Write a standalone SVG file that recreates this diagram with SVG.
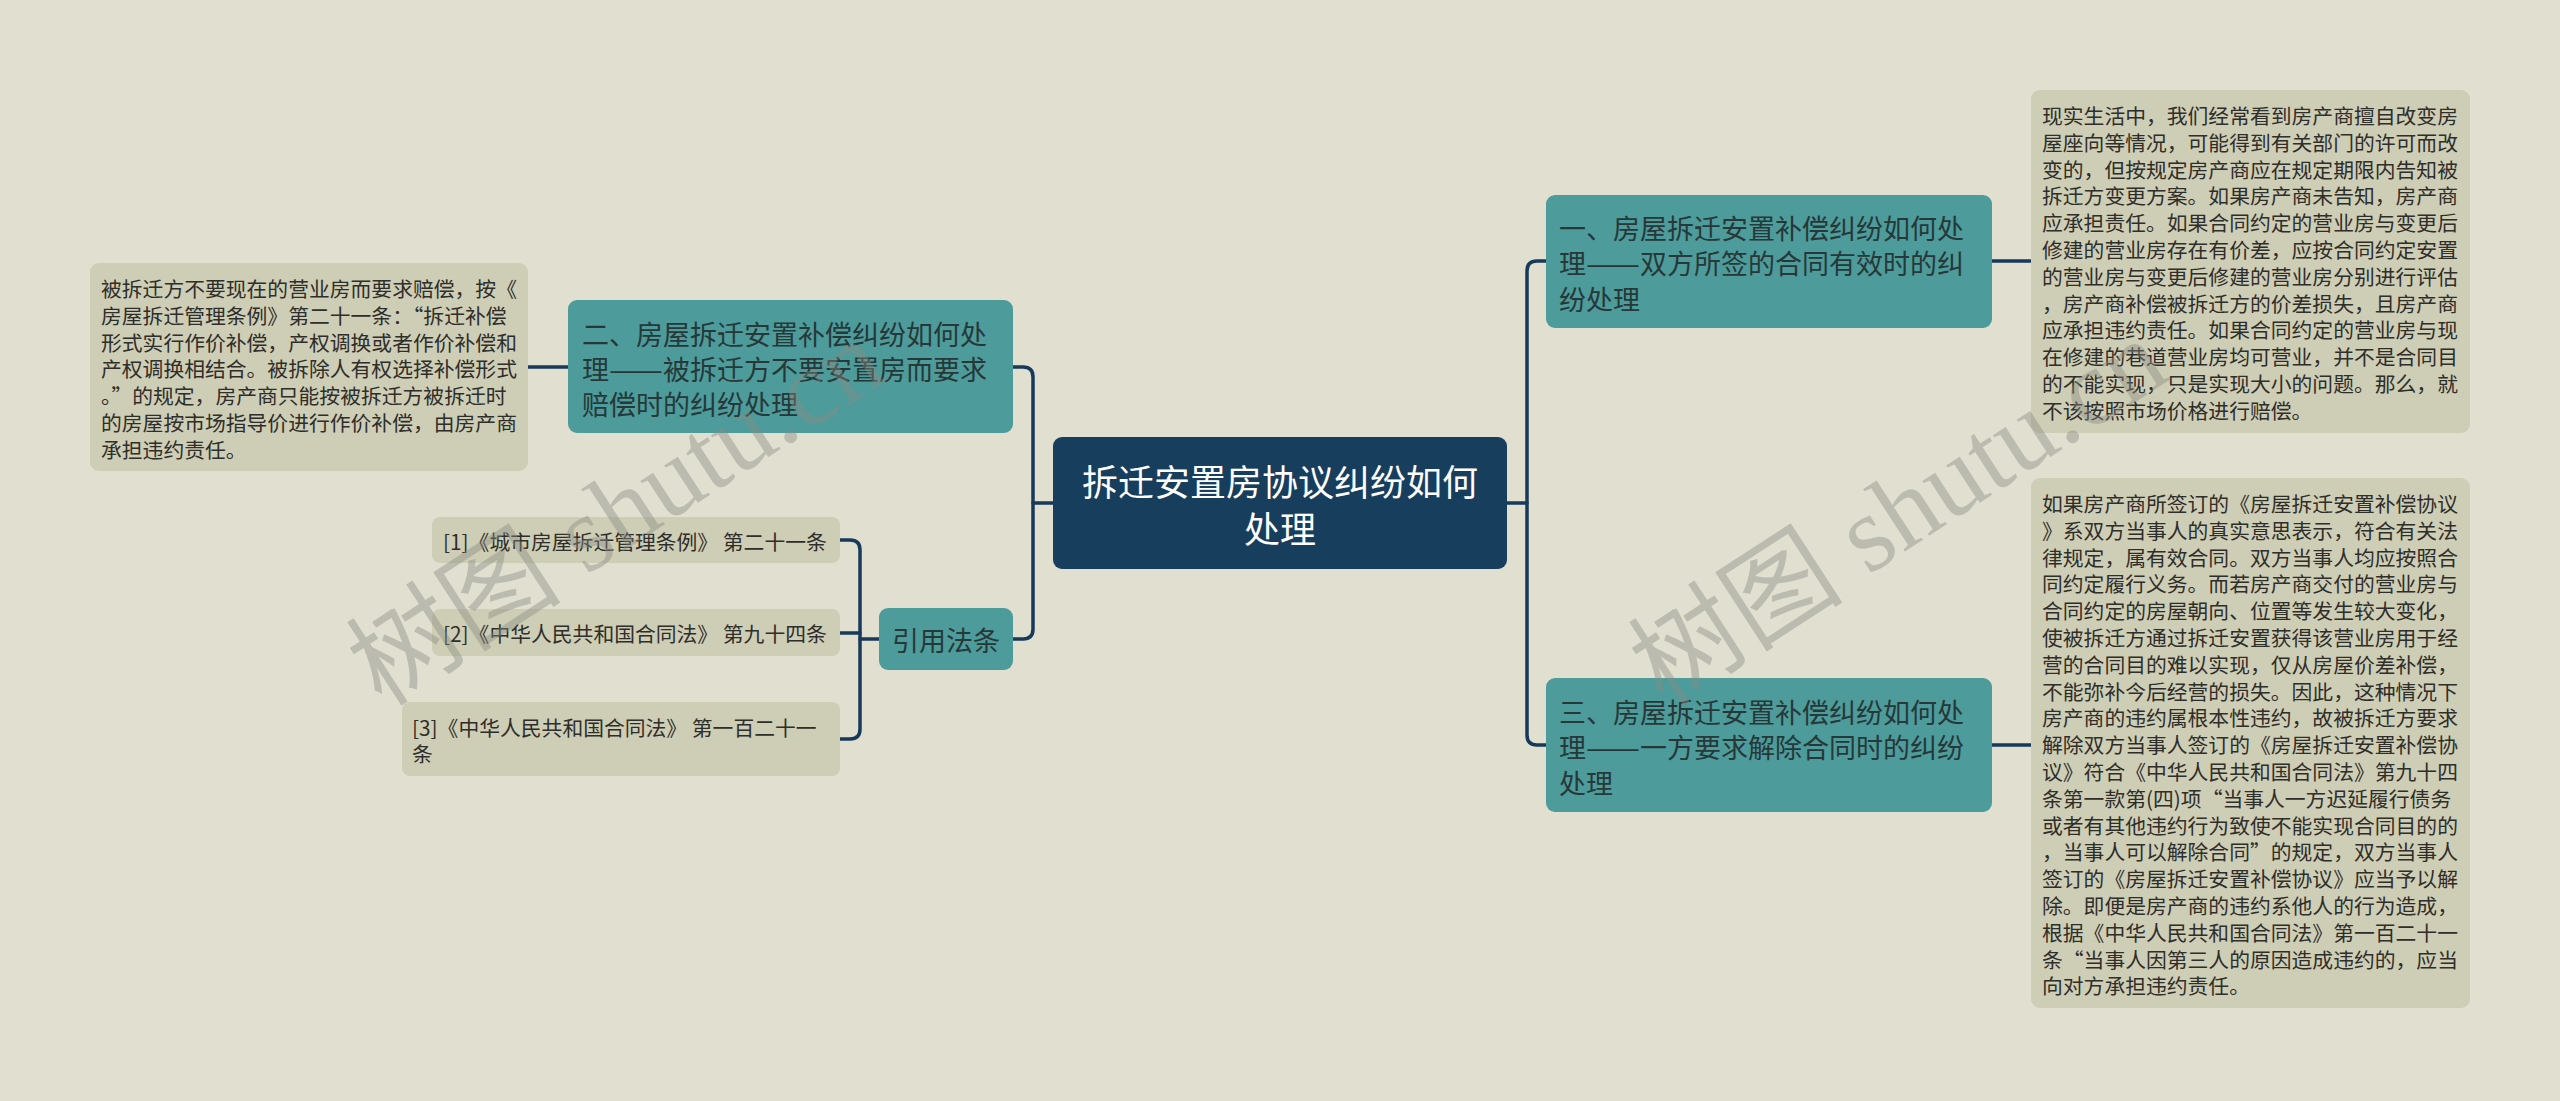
<svg xmlns="http://www.w3.org/2000/svg" width="2560" height="1101" viewBox="0 0 2560 1101">
<style>
text{font-family:"Noto Sans CJK SC","Noto Sans",sans-serif;dominant-baseline:central}
.root-box{fill:#183e5e}
.root-t{fill:#ffffff;font-size:36px;text-anchor:middle}
.br-box{fill:#4d9b9b}
.br-t{fill:#263838;font-size:27px}
.d-box{fill:#cecdb5}
.d-t{fill:#2e2e2a;font-size:20.8px}
.conn{fill:none;stroke:#173a5a;stroke-width:3.5;stroke-linecap:round;stroke-linejoin:round}
.wm{font-family:"Liberation Serif","Noto Sans CJK SC",serif;font-size:108px;fill:#8a8a80;fill-opacity:0.42;dominant-baseline:auto}
</style>
<rect x="0" y="0" width="2560" height="1101" fill="#e0dfd0"/>

<g id="connectors">
  <path class="conn" d="M1507 503 H1527"/>
  <path class="conn" d="M1546 261 H1537 Q1527 261 1527 271 V735 Q1527 745 1537 745 H1546"/>
  <path class="conn" d="M1992 261 H2031"/>
  <path class="conn" d="M1992 745 H2031"/>
  <path class="conn" d="M1053 503 H1033"/>
  <path class="conn" d="M1013 367 H1023 Q1033 367 1033 377 V629 Q1033 639 1023 639 H1013"/>
  <path class="conn" d="M568 367 H528"/>
  <path class="conn" d="M879 639 H860"/>
  <path class="conn" d="M840 540 H850 Q860 540 860 550 V729 Q860 739 850 739 H840"/>
  <path class="conn" d="M840 633 H860"/>
</g>

<g id="root">
  <rect class="root-box" x="1053" y="437" width="454" height="132" rx="9"/>
  <text class="root-t" x="1280" y="480">拆迁安置房协议纠纷如何</text>
  <text class="root-t" x="1280" y="527">处理</text>
</g>

<g id="branch1">
  <rect class="br-box" x="1546" y="195" width="446" height="133" rx="9"/>
  <text class="br-t" x="1559" y="227">一、房屋拆迁安置补偿纠纷如何处</text>
  <text class="br-t" x="1559" y="262">理<tspan textLength="54" lengthAdjust="spacingAndGlyphs">——</tspan><tspan x="1640">双方所签的合同有效时的纠</tspan></text>
  <text class="br-t" x="1559" y="298">纷处理</text>
</g>

<g id="branch3">
  <rect class="br-box" x="1546" y="678" width="446" height="134" rx="9"/>
  <text class="br-t" x="1559" y="711">三、房屋拆迁安置补偿纠纷如何处</text>
  <text class="br-t" x="1559" y="746">理<tspan textLength="54" lengthAdjust="spacingAndGlyphs">——</tspan><tspan x="1640">一方要求解除合同时的纠纷</tspan></text>
  <text class="br-t" x="1559" y="782">处理</text>
</g>

<g id="branch2">
  <rect class="br-box" x="568" y="300" width="445" height="133" rx="9"/>
  <text class="br-t" x="582" y="333">二、房屋拆迁安置补偿纠纷如何处</text>
  <text class="br-t" x="582" y="368">理<tspan textLength="54" lengthAdjust="spacingAndGlyphs">——</tspan><tspan x="663">被拆迁方不要安置房而要求</tspan></text>
  <text class="br-t" x="582" y="403">赔偿时的纠纷处理</text>
</g>

<g id="refs">
  <rect class="br-box" x="879" y="608" width="134" height="62" rx="9"/>
  <text class="br-t" x="946" y="639" text-anchor="middle">引用法条</text>
</g>

<g id="detail1">
  <rect class="d-box" x="2031" y="90" width="439" height="343" rx="9"/>
  <text class="d-t" x="2042" y="115">现实生活中，我们经常看到房产商擅自改变房</text>
  <text class="d-t" x="2042" y="141.8">屋座向等情况，可能得到有关部门的许可而改</text>
  <text class="d-t" x="2042" y="168.6">变的，但按规定房产商应在规定期限内告知被</text>
  <text class="d-t" x="2042" y="195.4">拆迁方变更方案。如果房产商未告知，房产商</text>
  <text class="d-t" x="2042" y="222.2">应承担责任。如果合同约定的营业房与变更后</text>
  <text class="d-t" x="2042" y="249">修建的营业房存在有价差，应按合同约定安置</text>
  <text class="d-t" x="2042" y="275.8">的营业房与变更后修建的营业房分别进行评估</text>
  <text class="d-t" x="2042" y="302.6">，房产商补偿被拆迁方的价差损失，且房产商</text>
  <text class="d-t" x="2042" y="329.4">应承担违约责任。如果合同约定的营业房与现</text>
  <text class="d-t" x="2042" y="356.2">在修建的巷道营业房均可营业，并不是合同目</text>
  <text class="d-t" x="2042" y="383">的不能实现，只是实现大小的问题。那么，就</text>
  <text class="d-t" x="2042" y="409.8">不该按照市场价格进行赔偿。</text>
</g>

<g id="detail3">
  <rect class="d-box" x="2031" y="478" width="439" height="530" rx="9"/>
  <text class="d-t" x="2042" y="503">如果房产商所签订的《房屋拆迁安置补偿协议</text>
  <text class="d-t" x="2042" y="529.8">》系双方当事人的真实意思表示，符合有关法</text>
  <text class="d-t" x="2042" y="556.6">律规定，属有效合同。双方当事人均应按照合</text>
  <text class="d-t" x="2042" y="583.4">同约定履行义务。而若房产商交付的营业房与</text>
  <text class="d-t" x="2042" y="610.2">合同约定的房屋朝向、位置等发生较大变化，</text>
  <text class="d-t" x="2042" y="637">使被拆迁方通过拆迁安置获得该营业房用于经</text>
  <text class="d-t" x="2042" y="663.8">营的合同目的难以实现，仅从房屋价差补偿，</text>
  <text class="d-t" x="2042" y="690.6">不能弥补今后经营的损失。因此，这种情况下</text>
  <text class="d-t" x="2042" y="717.4">房产商的违约属根本性违约，故被拆迁方要求</text>
  <text class="d-t" x="2042" y="744.2">解除双方当事人签订的《房屋拆迁安置补偿协</text>
  <text class="d-t" x="2042" y="771">议》符合《中华人民共和国合同法》第九十四</text>
  <text class="d-t" x="2042" y="797.8">条第一款第(四)项“当事人一方迟延履行债务</text>
  <text class="d-t" x="2042" y="824.6">或者有其他违约行为致使不能实现合同目的的</text>
  <text class="d-t" x="2042" y="851.4">，当事人可以解除合同”的规定，双方当事人</text>
  <text class="d-t" x="2042" y="878.2">签订的《房屋拆迁安置补偿协议》应当予以解</text>
  <text class="d-t" x="2042" y="905">除。即便是房产商的违约系他人的行为造成，</text>
  <text class="d-t" x="2042" y="931.8">根据《中华人民共和国合同法》第一百二十一</text>
  <text class="d-t" x="2042" y="958.6">条“当事人因第三人的原因造成违约的，应当</text>
  <text class="d-t" x="2042" y="985.4">向对方承担违约责任。</text>
</g>

<g id="detail2">
  <rect class="d-box" x="90" y="263" width="438" height="208" rx="9"/>
  <text class="d-t" x="101" y="288">被拆迁方不要现在的营业房而要求赔偿，按《</text>
  <text class="d-t" x="101" y="314.8">房屋拆迁管理条例》第二十一条：“拆迁补偿</text>
  <text class="d-t" x="101" y="341.6">形式实行作价补偿，产权调换或者作价补偿和</text>
  <text class="d-t" x="101" y="368.4">产权调换相结合。被拆除人有权选择补偿形式</text>
  <text class="d-t" x="101" y="395.2">。”的规定，房产商只能按被拆迁方被拆迁时</text>
  <text class="d-t" x="101" y="422">的房屋按市场指导价进行作价补偿，由房产商</text>
  <text class="d-t" x="101" y="448.8">承担违约责任。</text>
</g>

<g id="ref1">
  <rect class="d-box" x="432" y="517" width="408" height="46" rx="8"/>
  <text class="d-t" x="443" y="541">[1]《城市房屋拆迁管理条例》 第二十一条</text>
</g>
<g id="ref2">
  <rect class="d-box" x="432" y="609" width="408" height="47" rx="8"/>
  <text class="d-t" x="443" y="633">[2]《中华人民共和国合同法》 第九十四条</text>
</g>
<g id="ref3">
  <rect class="d-box" x="402" y="702" width="438" height="74" rx="8"/>
  <text class="d-t" x="412" y="727">[3]《中华人民共和国合同法》 第一百二十一</text>
  <text class="d-t" x="412" y="753">条</text>
</g>

<g id="watermark">
  <text class="wm" transform="translate(382 708) rotate(-33)">树图 shutu.cn</text>
  <text class="wm" transform="translate(1664 708) rotate(-33)">树图 shutu.cn</text>
</g>
</svg>
